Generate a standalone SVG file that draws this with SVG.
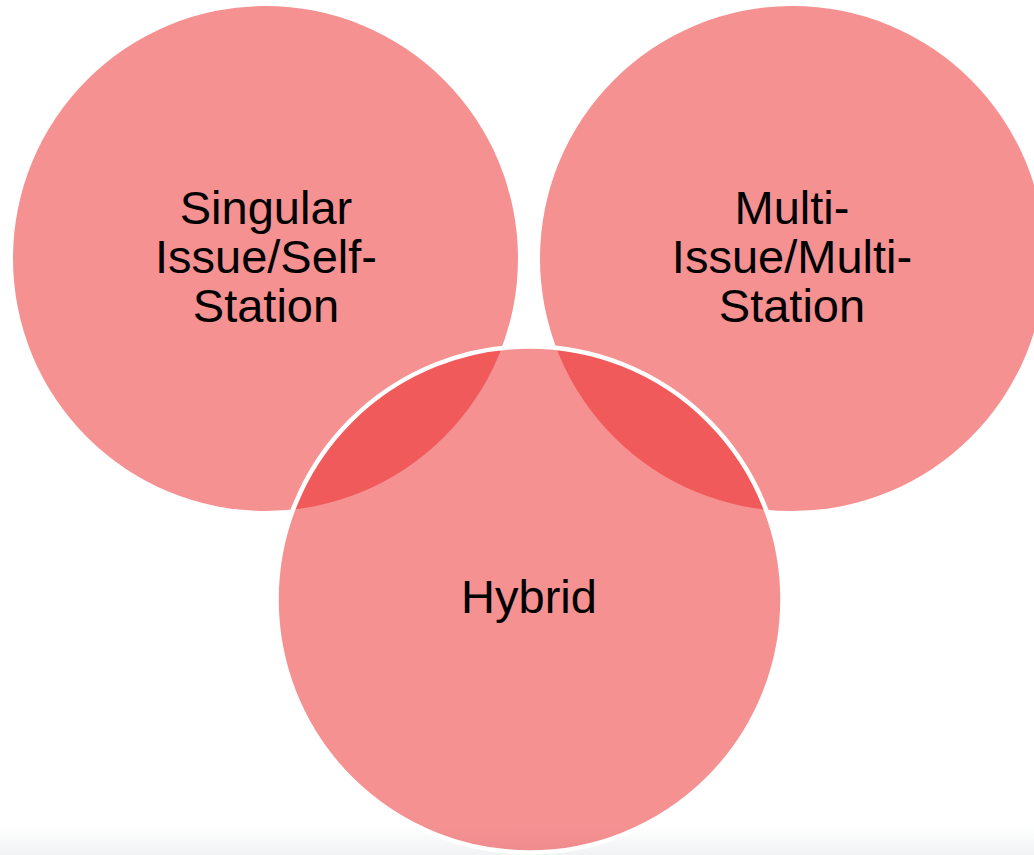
<svg xmlns="http://www.w3.org/2000/svg" width="1034" height="855" viewBox="0 0 1034 855">
  <style>
    .c { fill: #EB2323; fill-opacity: 0.5; }
    .top { stroke: none; }
    .bot { stroke: #FFFFFF; stroke-width: 4.5; }
    .t { font-family: "Liberation Sans", Arial, sans-serif; font-size: 47px; fill: #000000; text-anchor: middle; }
  </style>
  <defs>
    <linearGradient id="floor" x1="0" y1="0" x2="0" y2="1">
      <stop offset="0" stop-color="#FFFFFF"/>
      <stop offset="1" stop-color="#F1F2F4"/>
    </linearGradient>
  </defs>
  <rect x="0" y="0" width="1034" height="855" fill="#FFFFFF"/>
  <rect x="0" y="826" width="1034" height="29" fill="url(#floor)"/>
  <g id="node-singular">
    <circle class="c top" cx="265.5" cy="258.5" r="252.5"/>
  </g>
  <g id="node-multi">
    <circle class="c top" cx="792.5" cy="258.5" r="252.5"/>
  </g>
  <g id="node-hybrid">
    <circle class="c bot" cx="529.5" cy="599.5" r="253"/>
  </g>
  <g id="connectors"></g>
  <g id="labels">
    <text class="t" x="266" y="224">Singular</text>
    <text class="t" x="266" y="273">Issue/Self-</text>
    <text class="t" x="266" y="322">Station</text>
    <text class="t" x="792" y="224">Multi-</text>
    <text class="t" x="792" y="273">Issue/Multi-</text>
    <text class="t" x="792" y="322">Station</text>
    <text class="t" x="529" y="613">Hybrid</text>
  </g>
</svg>
